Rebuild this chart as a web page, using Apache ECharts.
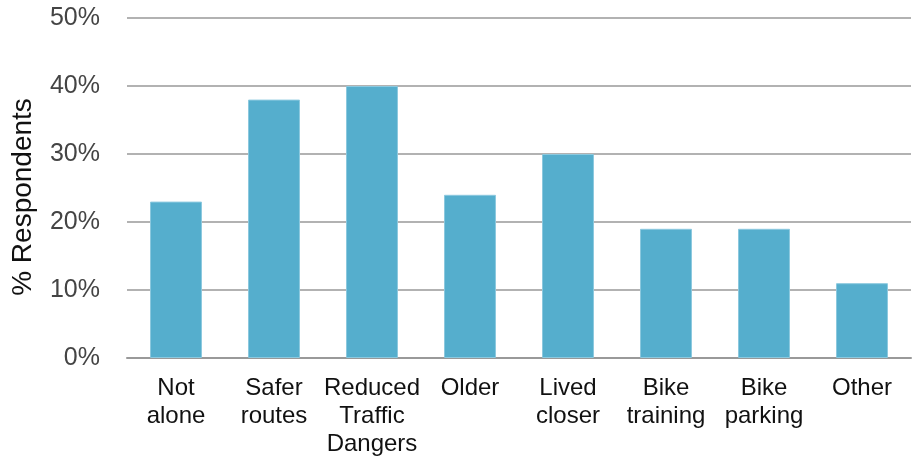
<!DOCTYPE html>
<html>
<head>
<meta charset="utf-8">
<script src="https://cdn.jsdelivr.net/npm/echarts@6/dist/echarts.min.js"></script>
<style>html,body{margin:0;padding:0;background:#fff}#c{width:917px;height:459px}</style>
</head>
<body>
<div id="c"></div>
<script>
const categories = ['Not\nalone', 'Safer\nroutes', 'Reduced\nTraffic\nDangers', 'Older', 'Lived\ncloser', 'Bike\ntraining', 'Bike\nparking', 'Other'];
const values = [23, 38, 40, 24, 30, 19, 19, 11];
const yTicks = [0, 10, 20, 30, 40, 50];

const chart = echarts.init(document.getElementById('c'));
chart.setOption({
  animation: false,
  grid: { left: 127, right: 6, top: 18, bottom: 101, containLabel: false, outerBoundsMode: 'none' },
  xAxis: {
    type: 'category',
    data: categories,
    axisLine: { show: true, lineStyle: { color: '#999', width: 2 } },
    axisTick: { show: false },
    axisLabel: { color: '#111', fontSize: 24, fontFamily: 'Liberation Sans, Arial, sans-serif', lineHeight: 28, margin: 16, interval: 0 }
  },
  yAxis: {
    type: 'value',
    min: yTicks[0], max: yTicks[yTicks.length - 1], interval: 10,
    name: '% Respondents',
    nameLocation: 'middle',
    nameGap: 90,
    nameTextStyle: { color: '#111', fontSize: 28, fontFamily: 'Liberation Sans, Arial, sans-serif', padding: [0, 18, 0, 0] },
    axisLine: { show: false },
    axisTick: { show: false },
    splitLine: { lineStyle: { color: '#999', width: 1.5 } },
    axisLabel: { color: '#444', fontSize: 25, fontFamily: 'Liberation Sans, Arial, sans-serif', margin: 27, formatter: v => v + '%' }
  },
  series: [{
    type: 'bar',
    data: values,
    barWidth: '53%',
    itemStyle: { color: '#55AECD', borderColor: '#8CC9DF', borderWidth: 1 },
    z: 3
  }]
});
</script>
</body>
</html>
